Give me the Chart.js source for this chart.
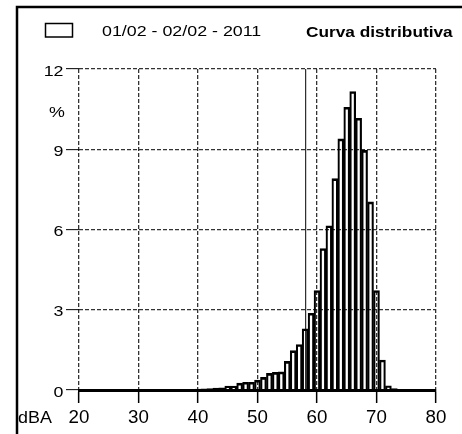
<!DOCTYPE html>
<html><head><meta charset="utf-8">
<script src="https://cdn.jsdelivr.net/npm/chart.js@4/dist/chart.umd.min.js"></script>
<style>html,body{margin:0;padding:0;background:#fff;overflow:hidden}canvas{display:block}</style>
</head><body>
<canvas id="c" width="462" height="434"></canvas>
<script>
const seriesLabel = '01/02 - 02/02 - 2011';
const chartTitle = 'Curva distributiva';
const xUnit = 'dBA';
const yUnit = '%';
const levels  = [36,37,38,39,40,41,42,43,44,45,46,47,48,49,50,51,52,53,54,55,56,57,58,59,60,61,62,63,64,65,66,67,68,69,70,71,72,73,74,75,76,77];
const percent = [0.01,0.01,0.01,0.02,0.03,0.04,0.05,0.07,0.08,0.15,0.15,0.26,0.29,0.29,0.37,0.47,0.62,0.66,0.68,1.07,1.47,1.70,2.29,2.87,3.72,5.29,6.14,7.90,9.39,10.57,11.16,10.16,8.96,7.03,3.72,1.12,0.16,0.05,0,0,0,0.01];
const markerLevel = 58.1;
const xTicks = [20,30,40,50,60,70,80];
const yTicks = [0,3,6,9,12];

const FONT = '"Liberation Sans", Arial, sans-serif';
const SX = 1.15;
function sText(ctx, t, x, y, size, bold, align, sx) {
  ctx.save();
  ctx.font = (bold ? 'bold ' : '') + size + 'px ' + FONT;
  ctx.textBaseline = 'alphabetic';
  ctx.textAlign = align;
  ctx.fillStyle = '#000';
  ctx.translate(x, y);
  ctx.scale(sx, 1);
  ctx.fillText(t, 0, 0);
  ctx.restore();
}

const decor = {
  id: 'decor',
  afterDraw(chart) {
    const ctx = chart.ctx, xs = chart.scales.x, ys = chart.scales.y;
    ctx.save();
    ctx.strokeStyle = '#000';
    ctx.lineWidth = 2.5;
    ctx.beginPath();
    ctx.moveTo(17, 434); ctx.lineTo(17, 7); ctx.lineTo(462, 7);
    ctx.stroke();
    ctx.lineWidth = 1.5;
    ctx.strokeRect(45.5, 23.5, 27, 13.5);
    ctx.restore();
    sText(ctx, seriesLabel, 102, 36, 15.5, false, 'left', SX);
    sText(ctx, chartTitle, 306, 37, 15, true, 'left', SX);
    ys.ticks.forEach(t => sText(ctx, String(t.value), 63.5, ys.getPixelForValue(t.value) + 6.5, 15.5, false, 'right', SX));
    xs.ticks.forEach(t => sText(ctx, String(t.value), xs.getPixelForValue(t.value), 422.5, 17.5, false, 'center', 1.07));
    sText(ctx, yUnit, 49, 117, 15.5, false, 'left', SX);
    sText(ctx, xUnit, 18, 423, 16.3, false, 'left', 1.1);
  }
};

const dashed = [4, 2];
new Chart(document.getElementById('c').getContext('2d'), {
  type: 'bar',
  data: {
    datasets: [
      {
        type: 'line',
        data: [{x: markerLevel, y: 0}, {x: markerLevel, y: 12}],
        borderColor: '#000', borderWidth: 1, pointRadius: 0, order: 0
      },
      {
        label: seriesLabel,
        data: levels.map((l, i) => ({x: l, y: percent[i]})),
        backgroundColor: 'rgba(0,0,0,0)',
        borderColor: '#000',
        borderWidth: {top: 2, left: 1.5, right: 1.5, bottom: 0},
        barPercentage: 1, categoryPercentage: 1, order: 1
      }
    ]
  },
  options: {
    responsive: false, animation: false, devicePixelRatio: 1,
    layout: {padding: {top: 69, right: 26, left: 0, bottom: 0}},
    plugins: {legend: {display: false}, tooltip: {enabled: false}},
    scales: {
      x: {
        type: 'linear', min: 20, max: 80, offset: false,
        afterBuildTicks: s => { s.ticks = xTicks.map(v => ({value: v})); },
        afterFit: s => { s.height = 44; },
        ticks: {display: false},
        grid: {offset: false, color: '#333', lineWidth: 1.3, tickLength: 13, tickColor: '#000', tickWidth: 1.5},
        border: {display: true, color: '#000', width: 3, dash: dashed}
      },
      y: {
        type: 'linear', min: 0, max: 12,
        afterBuildTicks: s => { s.ticks = yTicks.map(v => ({value: v})); },
        afterFit: s => { s.width = 79; },
        ticks: {display: false},
        grid: {color: c => (c.tick && c.tick.value === 0) ? 'rgba(0,0,0,0)' : '#333', lineWidth: 1.3, tickLength: 13, tickColor: '#000', tickWidth: 1},
        border: {display: false, dash: dashed}
      }
    }
  },
  plugins: [decor]
});
</script>
</body></html>
